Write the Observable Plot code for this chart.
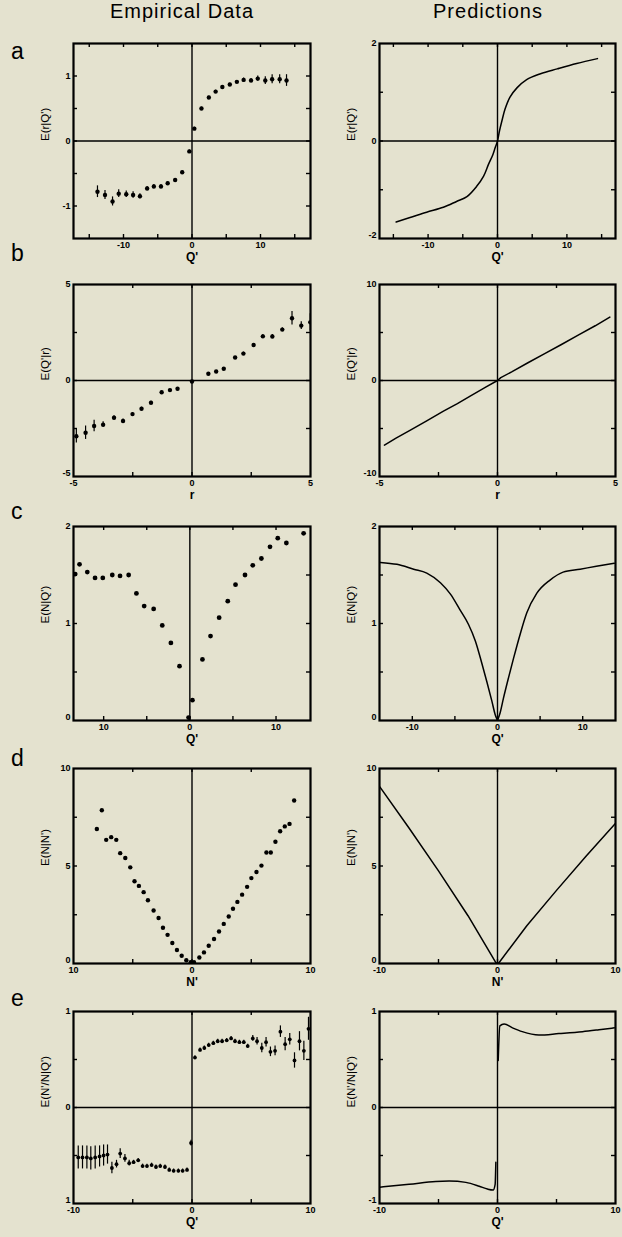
<!DOCTYPE html>
<html><head><meta charset="utf-8">
<script src="https://cdn.jsdelivr.net/npm/d3@7"></script>
<script src="https://cdn.jsdelivr.net/npm/@observablehq/plot@0.6"></script>
<style>
html,body{margin:0;padding:0;background:#e4e2cf;}
#root{position:relative;width:622px;height:1237px;background:#e4e2cf;overflow:hidden;font-family:"Liberation Sans",Arial,sans-serif;color:#000;}
.title{position:absolute;top:1px;font-size:20px;line-height:1;letter-spacing:1px;white-space:nowrap;transform:translateX(-50%);}
.letter{position:absolute;left:11px;font-size:23px;line-height:1;}
.panel{position:absolute;}
</style></head>
<body><div id="root"></div>
<script>
// ---------- column titles & panel letters ----------
const columnTitles = ["Empirical Data", "Predictions"];
const panelLetters = ["a", "b", "c", "d", "e"];

// ---------- a: E(r|Q') ----------
const aEmpQ = [-13.8,-12.7,-11.6,-10.7,-9.6,-8.6,-7.6,-6.55,-5.57,-4.53,-3.55,-2.46,-1.43,-0.39,0.34,1.38,2.46,3.45,4.43,5.52,6.55,7.54,8.62,9.6,10.7,11.7,12.8,13.8];
const aEmpY = [-0.78,-0.83,-0.93,-0.81,-0.82,-0.83,-0.85,-0.73,-0.70,-0.70,-0.65,-0.60,-0.48,-0.16,0.19,0.50,0.67,0.76,0.83,0.87,0.91,0.94,0.93,0.96,0.93,0.95,0.95,0.93];
const aEmpErr = [0.09,0.07,0.07,0.06,0.05,0.05,0.04,0.03,0.03,0.03,0.02,0.02,0.02,0.02,0.02,0.02,0.02,0.02,0.02,0.02,0.02,0.03,0.03,0.04,0.06,0.07,0.07,0.09];
const aPredQ = [-14.6,-12.6,-10.2,-7.8,-5.9,-4.4,-3.0,-2.0,-1.3,-0.67,-0.34,0,0.29,0.63,1.1,1.8,2.8,4.2,6.2,8.6,11.4,14.4];
const aPredY = [-1.66,-1.57,-1.46,-1.36,-1.24,-1.14,-0.93,-0.72,-0.48,-0.28,-0.14,0,0.21,0.41,0.66,0.90,1.09,1.26,1.38,1.48,1.59,1.69];

// ---------- b: E(Q'|r) ----------
const bEmpR = [-4.88,-4.49,-4.13,-3.75,-3.29,-2.91,-2.51,-2.13,-1.73,-1.28,-0.93,-0.61,0,0.69,1.02,1.34,1.82,2.17,2.60,2.99,3.39,3.81,4.22,4.61,4.99];
const bEmpY = [-2.9,-2.72,-2.37,-2.30,-1.94,-2.11,-1.75,-1.47,-1.16,-0.61,-0.50,-0.43,-0.05,0.35,0.47,0.61,1.20,1.40,1.85,2.30,2.29,2.65,3.24,2.86,3.03];
const bEmpErr = [0.35,0.35,0.3,0.15,0.1,0.1,0.08,0.08,0.08,0.05,0.05,0.05,0.05,0.05,0.05,0.05,0.05,0.08,0.08,0.1,0.1,0.1,0.35,0.2,0.45];
const bPredR = [-4.79,-4.3,-3.71,-3.0,-2.29,-1.7,-1.14,-0.5,0,0.14,0.6,1.29,2.0,2.71,3.4,4.14,4.76];
const bPredY = [-6.74,-6.0,-5.2,-4.2,-3.2,-2.4,-1.6,-0.7,0,0.3,0.9,1.85,2.8,3.75,4.7,5.7,6.6];

// ---------- c: E(N|Q') ----------
const cEmpQ = [-13.3,-12.8,-11.9,-11.0,-10.1,-9.0,-8.1,-7.1,-6.2,-5.3,-4.2,-3.2,-2.2,-1.2,-0.15,0.3,1.46,2.4,3.4,4.4,5.3,6.4,7.3,8.3,9.3,10.2,11.2,13.2];
const cEmpY = [1.51,1.61,1.53,1.47,1.47,1.50,1.49,1.50,1.31,1.18,1.15,0.98,0.80,0.56,0.03,0.21,0.63,0.87,1.06,1.23,1.40,1.50,1.60,1.67,1.79,1.88,1.83,1.93];
const cPredQ = [-13.75,-11.8,-9.84,-8.3,-6.7,-5.5,-4.4,-3.4,-2.6,-1.84,-1.25,-0.66,-0.27,0,0.31,0.7,1.29,1.88,2.66,3.44,4.6,6.2,7.7,9.7,11.6,13.7];
const cPredY = [1.63,1.61,1.56,1.52,1.42,1.30,1.14,0.99,0.82,0.59,0.40,0.20,0.06,0.0,0.08,0.23,0.44,0.64,0.89,1.11,1.31,1.45,1.53,1.56,1.59,1.62];

// ---------- d: E(N|N') ----------
const dEmpN = [-8.03,-7.61,-7.24,-6.82,-6.39,-6.06,-5.63,-5.21,-4.85,-4.48,-4.08,-3.72,-3.24,-2.82,-2.45,-2.06,-1.66,-1.27,-0.87,-0.48,-0.11,0.17,0.62,1.01,1.41,1.86,2.28,2.68,3.10,3.46,3.83,4.23,4.65,5.01,5.44,5.86,6.28,6.65,7.04,7.44,7.83,8.23,8.62];
const dEmpY = [6.90,7.86,6.34,6.48,6.34,5.66,5.41,4.93,4.22,3.98,3.66,3.24,2.72,2.33,1.83,1.47,1.05,0.69,0.40,0.17,0.07,0.07,0.31,0.57,0.91,1.26,1.64,2.03,2.41,2.81,3.16,3.53,3.93,4.38,4.69,5.02,5.69,5.69,6.24,6.78,7.03,7.16,8.36];
const dPredN = [-9.97,-7.5,-5,-2.5,-0.14,0,0.14,2.5,5,7.5,9.97];
const dPredY = [9.06,6.95,4.75,2.45,0.05,0,0.05,1.95,3.75,5.5,7.17];

// ---------- e: E(N'/N|Q') ----------
const eEmpQ = [-9.6,-9.24,-8.87,-8.54,-8.17,-7.80,-7.46,-7.13,-6.76,-6.37,-6.06,-5.66,-5.30,-4.93,-4.54,-4.17,-3.80,-3.41,-3.04,-2.68,-2.28,-1.92,-1.55,-1.15,-0.79,-0.42,-0.08,
               0.25,0.68,1.04,1.41,1.80,2.17,2.54,2.93,3.30,3.63,4.00,4.37,4.70,5.13,5.49,5.89,6.25,6.62,7.01,7.46,7.86,8.25,8.65,9.07,9.44,9.83];
const eEmpY = [-0.52,-0.52,-0.52,-0.53,-0.52,-0.51,-0.50,-0.49,-0.63,-0.59,-0.48,-0.53,-0.58,-0.57,-0.55,-0.61,-0.61,-0.60,-0.62,-0.61,-0.62,-0.65,-0.66,-0.66,-0.66,-0.65,-0.37,
               0.52,0.60,0.62,0.65,0.67,0.69,0.69,0.70,0.72,0.69,0.68,0.68,0.64,0.72,0.69,0.62,0.68,0.58,0.59,0.79,0.66,0.71,0.49,0.69,0.59,0.82];
const eEmpErr = [0.12,0.12,0.12,0.12,0.12,0.11,0.11,0.10,0.06,0.04,0.05,0.04,0.03,0.02,0.02,0.02,0.02,0.02,0.02,0.02,0.02,0.02,0.02,0.02,0.02,0.02,0.03,
                 0.02,0.02,0.02,0.02,0.02,0.02,0.02,0.02,0.02,0.02,0.02,0.02,0.02,0.03,0.04,0.05,0.05,0.05,0.05,0.06,0.07,0.06,0.08,0.10,0.10,0.12];
const ePredNegQ = [-9.97,-7.49,-5.23,-4.1,-2.68,-1.55,-0.85,-0.37,-0.2,-0.14];
const ePredNegY = [-0.83,-0.80,-0.77,-0.765,-0.78,-0.82,-0.85,-0.86,-0.80,-0.57];
const ePredPosQ = [0.06,0.2,0.56,1.27,2.1,3.5,5.2,7.2,8.6,9.9];
const ePredPosY = [0.49,0.85,0.87,0.83,0.79,0.755,0.77,0.79,0.81,0.83];

// ---------- axis labels & tick labels ----------
const xLabels = ["Q'", "r", "Q'", "N'", "Q'"];
const yLabels = ["E(r|Q')", "E(Q'|r)", "E(N|Q')", "E(N|N')", "E(N'/N|Q')"];
const aTicksX = [-10, 0, 10], aTickLabelsX = ["-10", "0", "10"];
const aLeftTicksY = [-1, 0, 1], aLeftTickLabelsY = ["-1", "0", "1"];
const aRightTicksY = [-2, 0, 2], aRightTickLabelsY = ["-2", "0", "2"];
const bTicksX = [-5, 0, 5], bTickLabelsX = ["-5", "0", "5"];
const bLeftTicksY = [-5, 0, 5], bLeftTickLabelsY = ["-5", "0", "5"];
const bRightTicksY = [-10, 0, 10], bRightTickLabelsY = ["-10", "0", "10"];
const cTicksX = [-10, 0, 10], cLeftTickLabelsX = ["10", "0", "10"], cRightTickLabelsX = ["-10", "0", "10"];
const cTicksY = [0, 1, 2], cTickLabelsY = ["0", "1", "2"];
const dTicksX = [-10, 0, 10], dLeftTickLabelsX = ["10", "0", "10"], dRightTickLabelsX = ["-10", "0", "10"];
const dTicksY = [0, 5, 10], dTickLabelsY = ["0", "5", "10"];
const eTicksX = [-10, 0, 10], eTickLabelsX = ["-10", "0", "10"];
const eTicksY = [-1, 0, 1], eLeftTickLabelsY = ["1", "0", "1"], eRightTickLabelsY = ["-1", "0", "1"];

// ---------- layout ----------
const root = document.getElementById("root");
const titleCenters = [182, 488];
columnTitles.forEach((t, i) => {
  const s = document.createElement("div");
  s.className = "title"; s.textContent = t; s.style.left = titleCenters[i] + "px";
  root.appendChild(s);
});
const letterTops = [40, 242, 500, 747, 987];
panelLetters.forEach((t, i) => {
  const s = document.createElement("div");
  s.className = "letter"; s.textContent = t; s.style.top = letterTops[i] + "px";
  root.appendChild(s);
});

const ML = 46, MR = 6, MT = 6, MB = 34;
const rows = [{top: 43, h: 195}, {top: 284, h: 192}, {top: 526, h: 194}, {top: 768, h: 195}, {top: 1011, h: 192}];
const cols = [{left: 73, w: 237}, {left: 379, w: 236}];

const zip = (xs, ys, es) => xs.map((x, i) => ({x, y: ys[i], e: es ? es[i] : 0}));

function dotsMarks(data, r) {
  return [
    Plot.ruleX(data.filter(d => d.e > 0), {x: "x", y1: d => d.y - d.e, y2: d => d.y + d.e, stroke: "black", strokeWidth: 1.2, clip: true}),
    Plot.dot(data, {x: "x", y: "y", r, fill: "black", stroke: "none", clip: true})
  ];
}
function lineMarks(data, curve) {
  return [Plot.line(data, {x: "x", y: "y", z: "s", stroke: "black", strokeWidth: 1.5, curve, clip: true})];
}

function panel(o) {
  const {left, w} = cols[o.col];
  const {top, h} = rows[o.row];
  const fmtX = new Map(o.xTicks.map((t, i) => [t, o.xTickLabels[i]]));
  const fmtY = new Map(o.yTicks.map((t, i) => [t, o.yTickLabels[i]]));
  const yBottom = o.yTicks.filter(t => t === o.yDomain[0]);
  const yRest = o.yTicks.filter(t => t !== o.yDomain[0]);
  const yAxisOpts = {anchor: "left", tickSize: 0, tickPadding: 3, tickFormat: d => fmtY.get(d), label: null, fontSize: 9, fontWeight: "bold"};
  const svg = Plot.plot({
    width: ML + w + MR, height: MT + h + MB,
    marginLeft: ML, marginRight: MR, marginTop: MT, marginBottom: MB,
    style: {background: "transparent", color: "black", fontFamily: "'Liberation Sans', Arial, sans-serif", fontSize: "9px", overflow: "visible"},
    x: {domain: o.xDomain},
    y: {domain: o.yDomain},
    marks: [
      ...o.marks,
      Plot.ruleX([0], {stroke: "black", strokeWidth: 1.4}),
      o.zeroY ? Plot.ruleY([0], {stroke: "black", strokeWidth: 1.4}) : null,
      Plot.tickX(o.xMinor, {x: d => d, insetBottom: h - 4, stroke: "black", strokeWidth: 1.4}),
      Plot.tickX(o.xMinor, {x: d => d, insetTop: h - 4, stroke: "black", strokeWidth: 1.4}),
      Plot.tickY(o.yMinor, {y: d => d, insetRight: w - 4, stroke: "black", strokeWidth: 1.4}),
      Plot.tickY(o.yMinor, {y: d => d, insetLeft: w - 4, stroke: "black", strokeWidth: 1.4}),
      Plot.frame({stroke: "black", strokeWidth: 2.2}),
      Plot.axisX(o.xTicks, {anchor: "bottom", tickSize: 0, tickPadding: 3, tickFormat: d => fmtX.get(d), label: null, fontSize: 9, fontWeight: "bold"}),
      Plot.axisY(yRest, yAxisOpts),
      yBottom.length ? Plot.axisY(yBottom, {...yAxisOpts, dy: -3}) : null,
      Plot.text([xLabels[o.row]], {text: d => d, frameAnchor: "bottom", dy: 22, fontSize: 12, fontWeight: "bold"}),
      Plot.text([yLabels[o.row]], {text: d => d, frameAnchor: "left", dx: -28, rotate: -90, fontSize: 11.5})
    ]
  });
  const wrap = document.createElement("div");
  wrap.className = "panel";
  wrap.style.left = (left - ML) + "px";
  wrap.style.top = (top - MT) + "px";
  wrap.appendChild(svg);
  root.appendChild(wrap);
}

const step = (a, b, s) => d3.range(a, b + s / 2, s);

// Row a
panel({row: 0, col: 0, xDomain: [-17.3, 17.3], yDomain: [-1.5, 1.5], zeroY: true,
  xTicks: aTicksX, xTickLabels: aTickLabelsX, yTicks: aLeftTicksY, yTickLabels: aLeftTickLabelsY,
  xMinor: step(-15, 15, 5), yMinor: step(-1, 1, 0.5),
  marks: dotsMarks(zip(aEmpQ, aEmpY, aEmpErr), 2.2)});
panel({row: 0, col: 1, xDomain: [-17, 17], yDomain: [-2, 2], zeroY: true,
  xTicks: aTicksX, xTickLabels: aTickLabelsX, yTicks: aRightTicksY, yTickLabels: aRightTickLabelsY,
  xMinor: step(-15, 15, 5), yMinor: step(-1, 1, 1),
  marks: lineMarks(zip(aPredQ, aPredY).map(d => ({...d, s: 0})), "catmull-rom")});

// Row b
panel({row: 1, col: 0, xDomain: [-5, 5], yDomain: [-5, 5], zeroY: true,
  xTicks: bTicksX, xTickLabels: bTickLabelsX, yTicks: bLeftTicksY, yTickLabels: bLeftTickLabelsY,
  xMinor: step(-2.5, 2.5, 2.5), yMinor: step(-2.5, 2.5, 2.5),
  marks: dotsMarks(zip(bEmpR, bEmpY, bEmpErr), 2.2)});
panel({row: 1, col: 1, xDomain: [-5, 5], yDomain: [-10, 10], zeroY: true,
  xTicks: bTicksX, xTickLabels: bTickLabelsX, yTicks: bRightTicksY, yTickLabels: bRightTickLabelsY,
  xMinor: step(-2.5, 2.5, 2.5), yMinor: step(-5, 5, 5),
  marks: lineMarks(zip(bPredR, bPredY).map(d => ({...d, s: 0})), "linear")});

// Row c
panel({row: 2, col: 0, xDomain: [-13.5, 14], yDomain: [0, 2], zeroY: false,
  xTicks: cTicksX, xTickLabels: cLeftTickLabelsX, yTicks: cTicksY, yTickLabels: cTickLabelsY,
  xMinor: step(-10, 10, 5), yMinor: step(0.5, 1.5, 0.5),
  marks: dotsMarks(zip(cEmpQ, cEmpY), 2.4)});
panel({row: 2, col: 1, xDomain: [-13.85, 13.85], yDomain: [0, 2], zeroY: false,
  xTicks: cTicksX, xTickLabels: cRightTickLabelsX, yTicks: cTicksY, yTickLabels: cTickLabelsY,
  xMinor: step(-10, 10, 5), yMinor: step(0.5, 1.5, 0.5),
  marks: lineMarks(zip(cPredQ, cPredY).map(d => ({...d, s: d.x <= 0 ? 0 : 1})).concat([{x: 0, y: 0, s: 1}]).sort((p, q) => p.s - q.s || p.x - q.x), "monotone-x")});

// Row d
panel({row: 3, col: 0, xDomain: [-10, 10], yDomain: [0, 10], zeroY: false,
  xTicks: dTicksX, xTickLabels: dLeftTickLabelsX, yTicks: dTicksY, yTickLabels: dTickLabelsY,
  xMinor: step(-5, 5, 5), yMinor: step(2.5, 7.5, 2.5),
  marks: dotsMarks(zip(dEmpN, dEmpY), 2.2)});
panel({row: 3, col: 1, xDomain: [-10, 10], yDomain: [0, 10], zeroY: false,
  xTicks: dTicksX, xTickLabels: dRightTickLabelsX, yTicks: dTicksY, yTickLabels: dTickLabelsY,
  xMinor: step(-5, 5, 5), yMinor: step(2.5, 7.5, 2.5),
  marks: lineMarks(zip(dPredN, dPredY).map(d => ({...d, s: 0})), "linear")});

// Row e
panel({row: 4, col: 0, xDomain: [-10, 10], yDomain: [-1, 1], zeroY: true,
  xTicks: eTicksX, xTickLabels: eTickLabelsX, yTicks: eTicksY, yTickLabels: eLeftTickLabelsY,
  xMinor: step(-5, 5, 5), yMinor: step(-0.5, 0.5, 0.5),
  marks: dotsMarks(zip(eEmpQ, eEmpY, eEmpErr), 1.9)});
panel({row: 4, col: 1, xDomain: [-10, 10], yDomain: [-1, 1], zeroY: true,
  xTicks: eTicksX, xTickLabels: eTickLabelsX, yTicks: eTicksY, yTickLabels: eRightTickLabelsY,
  xMinor: step(-5, 5, 5), yMinor: step(-0.5, 0.5, 0.5),
  marks: lineMarks(zip(ePredNegQ, ePredNegY).map(d => ({...d, s: 0})).concat(zip(ePredPosQ, ePredPosY).map(d => ({...d, s: 1}))), "monotone-x")});
</script>
</body></html>
